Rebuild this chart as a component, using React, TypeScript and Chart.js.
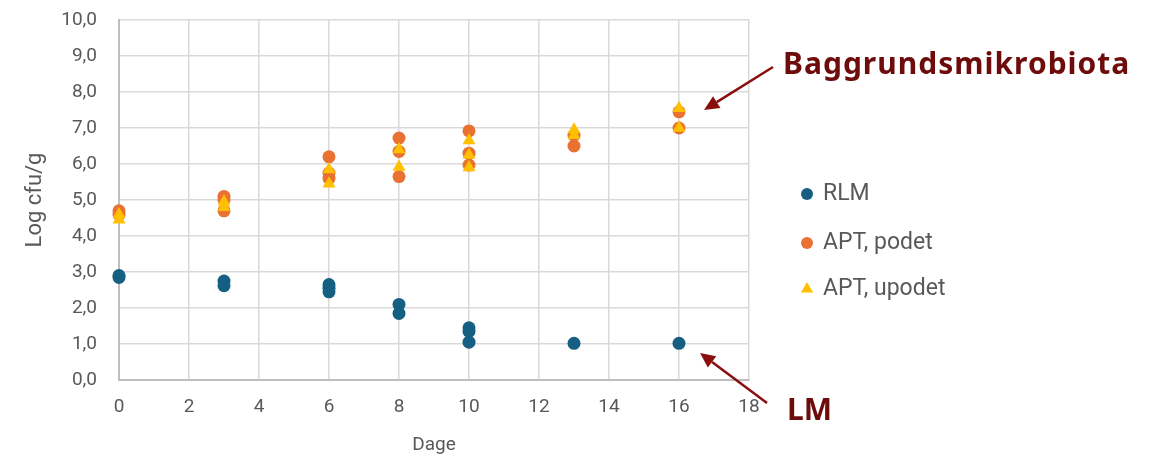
import React, { useEffect, useRef } from "react";
import { Chart, registerables } from "chart.js";

Chart.register(...registerables);

const seriesNames = ["RLM", "APT, podet", "APT, upodet"];
const seriesColors = ["#156082", "#E97132", "#FFC000"];

const rlmDays = [0, 0, 3, 3, 6, 6, 6, 8, 8, 10, 10, 10, 13, 16];
const rlmValues = [2.85, 2.9, 2.62, 2.75, 2.45, 2.55, 2.65, 1.85, 2.1, 1.05, 1.35, 1.45, 1.02, 1.02];

const podetDays = [0, 0, 3, 3, 3, 6, 6, 6, 8, 8, 8, 10, 10, 10, 13, 13, 16, 16];
const podetValues = [4.7, 4.6, 5.1, 5.0, 4.7, 6.2, 5.75, 5.6, 6.72, 6.35, 5.65, 6.92, 6.3, 5.97, 6.8, 6.5, 7.45, 7.0];

const upodetDays = [0, 0, 3, 3, 6, 6, 8, 8, 10, 10, 10, 13, 13, 16, 16];
const upodetValues = [4.6, 4.45, 4.95, 4.8, 5.85, 5.45, 6.4, 5.92, 6.65, 6.25, 5.9, 6.95, 6.8, 7.55, 7.0];

const xTickMin = 0;
const xTickMax = 18;
const xTickStep = 2;
const yTickMin = 0;
const yTickMax = 10;
const yTickStep = 1;

const xTitle = "Dage";
const yTitle = "Log cfu/g";
const noteTop = "Baggrundsmikrobiota";
const noteBottom = "LM";

const toPoints = (xs: number[], ys: number[]) => xs.map((x, i) => ({ x, y: ys[i] }));

const legendPlugin = {
  id: "customLegend",
  afterDraw(chart: any) {
    const ctx = chart.ctx;
    const rows = [194, 243, 289];
    ctx.save();
    chart.data.datasets.forEach((ds: any, i: number) => {
      const y = rows[i];
      const x = 807;
      ctx.fillStyle = ds.backgroundColor;
      ctx.beginPath();
      if (ds.pointStyle === "triangle") {
        const r = 7;
        ctx.moveTo(x, y - r);
        ctx.lineTo(x + r * 0.866, y + r * 0.5);
        ctx.lineTo(x - r * 0.866, y + r * 0.5);
        ctx.closePath();
      } else {
        ctx.arc(x, y, 6, 0, Math.PI * 2);
      }
      ctx.fill();
      ctx.fillStyle = "#595959";
      ctx.font = "23px Roboto";
      ctx.textBaseline = "middle";
      ctx.textAlign = "left";
      ctx.fillText(ds.label, 823, y);
    });
    ctx.restore();
  },
};

function drawArrow(ctx: CanvasRenderingContext2D, x1: number, y1: number, x2: number, y2: number) {
  const ang = Math.atan2(y2 - y1, x2 - x1);
  const headLen = 15;
  const headW = 7;
  const bx = x2 - Math.cos(ang) * headLen;
  const by = y2 - Math.sin(ang) * headLen;
  ctx.beginPath();
  ctx.moveTo(x1, y1);
  ctx.lineTo(bx, by);
  ctx.stroke();
  ctx.beginPath();
  ctx.moveTo(x2, y2);
  ctx.lineTo(bx + Math.sin(ang) * headW, by - Math.cos(ang) * headW);
  ctx.lineTo(bx - Math.sin(ang) * headW, by + Math.cos(ang) * headW);
  ctx.closePath();
  ctx.fill();
}

const notesPlugin = {
  id: "notes",
  afterDraw(chart: any) {
    const ctx = chart.ctx;
    ctx.save();
    ctx.strokeStyle = "#8B0E0E";
    ctx.fillStyle = "#8B0E0E";
    ctx.lineWidth = 2.5;
    drawArrow(ctx, 773, 67, 704, 110);
    drawArrow(ctx, 767, 403, 700, 353);
    ctx.fillStyle = "#6E0B0B";
    ctx.font = "bold 30px 'Noto Sans'";
    ctx.textAlign = "left";
    ctx.textBaseline = "alphabetic";
    (ctx as any).letterSpacing = "1px";
    ctx.fillText(noteTop, 783, 74);
    (ctx as any).letterSpacing = "0px";
    ctx.fillText(noteBottom, 787, 420);
    ctx.restore();
  },
};

export default function App() {
  const ref = useRef<HTMLCanvasElement | null>(null);
  useEffect(() => {
    if (!ref.current) return;
    const chart = new Chart(ref.current, {
      type: "scatter",
      data: {
        datasets: [
          {
            label: seriesNames[0],
            data: toPoints(rlmDays, rlmValues),
            backgroundColor: seriesColors[0],
            borderColor: seriesColors[0],
            pointStyle: "circle",
            pointRadius: 6.5,
            borderWidth: 0,
            order: 3,
            clip: false,
          },
          {
            label: seriesNames[1],
            data: toPoints(podetDays, podetValues),
            backgroundColor: seriesColors[1],
            borderColor: seriesColors[1],
            pointStyle: "circle",
            pointRadius: 6.5,
            borderWidth: 0,
            order: 2,
            clip: false,
          },
          {
            label: seriesNames[2],
            data: toPoints(upodetDays, upodetValues),
            backgroundColor: seriesColors[2],
            borderColor: seriesColors[2],
            pointStyle: "triangle",
            pointRadius: 7.5,
            borderWidth: 0,
            order: 1,
            clip: false,
          },
        ],
      },
      options: {
        responsive: false,
        animation: false,
        layout: { padding: { left: 0, top: 20, right: 410, bottom: 0 } },
        plugins: {
          legend: { display: false },
          tooltip: { enabled: false },
        },
        scales: {
          x: {
            type: "linear",
            min: xTickMin,
            max: xTickMax,
            afterFit: (scale: any) => {
              scale.height = 77;
              scale.paddingLeft = 0;
              scale.paddingRight = 0;
            },
            ticks: {
              stepSize: xTickStep,
              color: "#595959",
              font: { family: "Roboto", size: 19 },
              padding: 16,
            },
            grid: { color: "#D9D9D9", lineWidth: 1.5, drawTicks: false },
            border: { color: "#BFBFBF", width: 2 },
            title: {
              display: true,
              text: xTitle,
              color: "#595959",
              font: { family: "Roboto", size: 19 },
              padding: { top: 0, bottom: 0 },
            },
          },
          y: {
            type: "linear",
            min: yTickMin,
            max: yTickMax,
            afterFit: (scale: any) => {
              scale.width = 119;
              scale.paddingTop = 0;
              scale.paddingBottom = 0;
            },
            ticks: {
              stepSize: yTickStep,
              color: "#595959",
              font: { family: "Roboto", size: 19 },
              padding: 22,
              callback: (v: any) => Number(v).toFixed(1).replace(".", ","),
            },
            grid: { color: "#D9D9D9", lineWidth: 1.5, drawTicks: false },
            border: { color: "#BFBFBF", width: 2 },
            title: {
              display: true,
              text: yTitle,
              color: "#595959",
              font: { family: "Roboto", size: 22 },
              padding: { top: 22, bottom: 0 },
            },
          },
        },
      },
      plugins: [legendPlugin, notesPlugin],
    } as any);
    return () => chart.destroy();
  }, []);
  return (
    <div style={{ position: "absolute", left: 0, top: 0, width: 1159, height: 457, background: "#fff" }}>
      <canvas ref={ref} width={1159} height={457} style={{ display: "block" }} />
    </div>
  );
}
